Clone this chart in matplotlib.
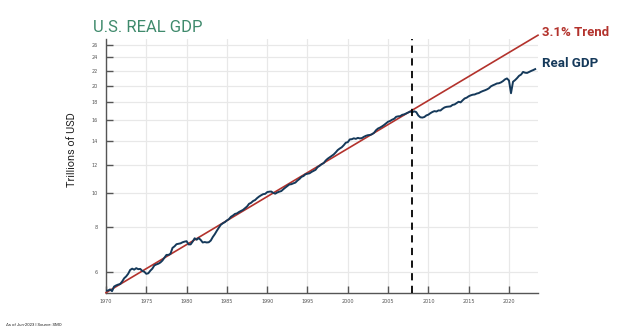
import matplotlib
matplotlib.use("Agg")
import matplotlib.pyplot as plt
from matplotlib.ticker import NullLocator

# Real GDP, trillions of chained 2017 USD, quarterly (1969Q4 .. 2023Q2)
gdp_start_year = 1969.75
gdp = [
    5.30,                        # 1969 Q4
    5.32, 5.32, 5.36, 5.30,      # 1970
    5.46, 5.50, 5.53, 5.55,      # 1971
    5.64, 5.76, 5.83, 5.93,      # 1972
    6.08, 6.13, 6.09, 6.15,      # 1973
    6.11, 6.12, 6.04, 6.01,      # 1974
    5.93, 5.95, 6.05, 6.13,      # 1975
    6.26, 6.30, 6.33, 6.38,      # 1976
    6.46, 6.58, 6.70, 6.70,      # 1977
    6.75, 7.01, 7.08, 7.18,      # 1978
    7.20, 7.22, 7.27, 7.30,      # 1979
    7.32, 7.17, 7.17, 7.30,      # 1980
    7.46, 7.39, 7.47, 7.38,      # 1981
    7.26, 7.28, 7.26, 7.27,      # 1982
    7.35, 7.52, 7.66, 7.83,      # 1983
    7.99, 8.14, 8.22, 8.28,      # 1984
    8.37, 8.44, 8.57, 8.64,      # 1985
    8.73, 8.76, 8.84, 8.90,      # 1986
    8.96, 9.06, 9.16, 9.32,      # 1987
    9.38, 9.49, 9.55, 9.67,      # 1988
    9.77, 9.85, 9.92, 9.94,      # 1989
    10.05, 10.08, 10.09, 10.00,  # 1990
    9.95, 10.03, 10.08, 10.12,   # 1991
    10.24, 10.35, 10.45, 10.56,  # 1992
    10.58, 10.64, 10.69, 10.83,  # 1993
    10.94, 11.09, 11.15, 11.28,  # 1994
    11.32, 11.35, 11.45, 11.53,  # 1995
    11.61, 11.81, 11.91, 12.04,  # 1996
    12.12, 12.32, 12.47, 12.58,  # 1997
    12.70, 12.82, 12.99, 13.19,  # 1998
    13.32, 13.43, 13.61, 13.83,  # 1999
    13.88, 14.13, 14.15, 14.23,  # 2000
    14.18, 14.27, 14.22, 14.25,  # 2001
    14.37, 14.46, 14.52, 14.54,  # 2002
    14.61, 14.74, 14.99, 15.16,  # 2003
    15.25, 15.37, 15.51, 15.67,  # 2004
    15.84, 15.92, 16.05, 16.14,  # 2005
    16.35, 16.40, 16.42, 16.56,  # 2006
    16.61, 16.71, 16.81, 16.92,  # 2007
    16.84, 16.94, 16.85, 16.49,  # 2008
    16.30, 16.27, 16.33, 16.50,  # 2009
    16.58, 16.74, 16.87, 16.96,  # 2010
    16.92, 17.04, 17.03, 17.22,  # 2011
    17.37, 17.44, 17.47, 17.49,  # 2012
    17.66, 17.71, 17.86, 18.02,  # 2013
    17.95, 18.19, 18.41, 18.50,  # 2014
    18.67, 18.78, 18.86, 18.89,  # 2015
    19.00, 19.06, 19.20, 19.31,  # 2016
    19.40, 19.51, 19.65, 19.90,  # 2017
    20.04, 20.15, 20.28, 20.31,  # 2018
    20.42, 20.59, 20.82, 20.95,  # 2019
    20.67, 19.04, 20.51, 20.72,  # 2020
    20.99, 21.31, 21.48, 21.85,  # 2021
    21.74, 21.71, 21.85, 21.99,  # 2022
    22.11, 22.25,                # 2023
]
gdp_years = [gdp_start_year + 0.25 * i for i in range(len(gdp))]

# 3.1% trend line end points
trend_years = [1970.0, 2023.6]
trend_values = [5.25, 27.7]

recession_year = 2008.0

x_ticks = list(range(1970, 2021, 5))
y_ticks = [6, 8, 10, 12, 14, 16, 18, 20, 22, 24, 26]

navy = "#15395a"
red = "#b3322c"
teal = "#3f8a6c"
cond = ["Roboto", "DejaVu Sans"]

fig = plt.figure(figsize=(6.24, 3.28), dpi=100)
ax = fig.add_axes([106 / 624, 35 / 328, 432 / 624, 254 / 328])

ax.plot(trend_years, trend_values, color=red, lw=1.2, clip_on=False, zorder=3)
ax.plot(gdp_years, gdp, color=navy, lw=1.4, zorder=4)
ax.axvline(recession_year, color="black", lw=1.3, ls=(0, (4, 3)), zorder=5)

ax.set_yscale("log")
ax.set_ylim(5.238, 27.03)
ax.set_xlim(1970, 2023.6)
ax.yaxis.set_minor_locator(NullLocator())
ax.set_yticks(y_ticks)
ax.set_yticklabels([str(v) for v in y_ticks])
ax.set_xticks(x_ticks)
ax.set_xticklabels([str(v) for v in x_ticks])

ax.tick_params(axis="both", direction="in", length=5, width=1, color="#555555",
               labelsize=3.5, labelcolor="#555555")
ax.tick_params(axis="y", pad=6)
ax.tick_params(axis="x", pad=4)
ax.grid(True, color="#e8e8e8", lw=0.9)
ax.set_axisbelow(True)
for s in ["top", "right"]:
    ax.spines[s].set_visible(False)
for s in ["left", "bottom"]:
    ax.spines[s].set_color("#555555")
    ax.spines[s].set_linewidth(1.0)

ax.set_ylabel("Trillions of USD", family=cond, fontsize=7.8, color="#222222")
ax.yaxis.set_label_coords(-0.068, 0.565)

fig.text(93 / 624, 1 - 32 / 328, "U.S. REAL GDP", family=cond, fontsize=12,
         color=teal, ha="left", va="baseline")
fig.text(542 / 624, 1 - 36 / 328, "3.1% Trend", family=cond, fontsize=9.5,
         fontweight="bold", color=red, ha="left", va="baseline")
fig.text(542 / 624, 1 - 67 / 328, "Real GDP", family=cond, fontsize=9.5,
         fontweight="bold", color=navy, ha="left", va="baseline")
fig.text(6 / 624, 1 - 326 / 328, "As of Jun-2023 | Source: SMO", family=cond,
         fontsize=3.1, color="#222222", ha="left", va="baseline")

fig.savefig("out.png", dpi=100)
